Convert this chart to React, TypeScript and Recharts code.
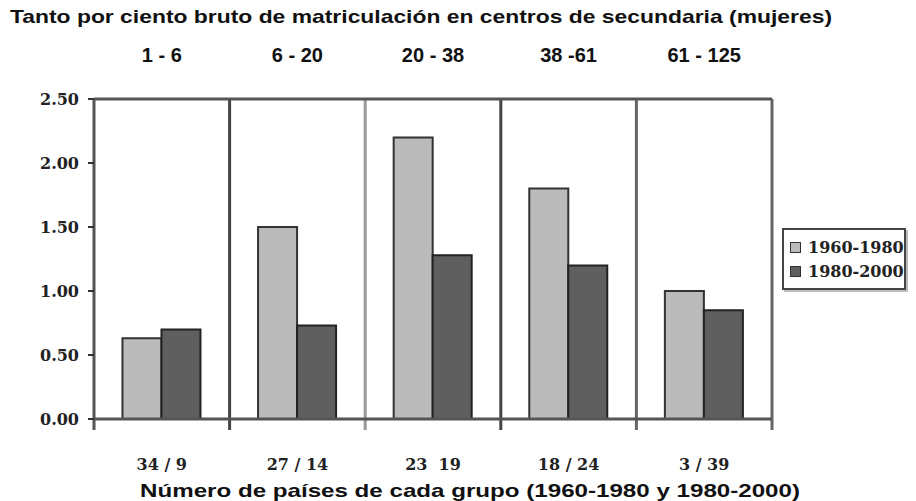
import { BarChart, Bar, XAxis, YAxis, ReferenceLine, Legend } from 'recharts';

const ranges = ['1 - 6', '6 - 20', '20 - 38', '38 -61', '61 - 125'];
const paises = ['34 / 9', '27 / 14', '23\u00a0 19', '18 / 24', '3 / 39'];
const v1960 = [0.63, 1.5, 2.2, 1.8, 1.0];
const v1980 = [0.7, 0.73, 1.28, 1.2, 0.85];
const yTicks = [0, 0.5, 1, 1.5, 2, 2.5];

const data = paises.map((p, i) => ({ paises: p, range: ranges[i], a: v1960[i], b: v1980[i] }));

const serif = { fontFamily: 'DejaVu Serif', fontWeight: 700, fontSize: 16, fill: '#222' };
const sans = "'Liberation Sans', Arial, sans-serif";

// dividers between groups (band edges), last one closes the frame
const dividers = [
  { x: paises[1], pos: 'start', color: '#444' },
  { x: paises[2], pos: 'start', color: '#999' },
  { x: paises[3], pos: 'start', color: '#444' },
  { x: paises[4], pos: 'start', color: '#666' },
  { x: paises[4], pos: 'end', color: '#666' },
];

function LegendBox({ payload }: any) {
  return (
    <div style={{ boxSizing: 'border-box', width: 124, border: '2px solid #444', boxShadow: '2px 2px 0 #bbb', background: '#fff', padding: '5px 0 5px 6px' }}>
      {(payload || []).map((e: any) => (
        <div key={e.value} style={{ display: 'flex', alignItems: 'center', height: 24, fontFamily: 'DejaVu Serif', fontWeight: 700, fontSize: 16, color: '#222' }}>
          <span style={{ display: 'inline-block', width: 9, height: 9, border: '1px solid #333', background: e.color, marginRight: 7 }} />
          {e.value}
        </div>
      ))}
    </div>
  );
}

export default function App() {
  return (
    <div style={{ position: 'absolute', left: 0, top: 0, background: '#fff' }}>
      <BarChart width={916} height={501} data={data} margin={{ top: 0, right: 20, bottom: 0, left: 0 }} barCategoryGap="21%" barGap={0}>
        <text x={421} y={23} textAnchor="middle" textLength={822} lengthAdjust="spacingAndGlyphs" style={{ fontFamily: sans, fontSize: 19, fontWeight: 700, fill: '#111' }}>
          Tanto por ciento bruto de matriculación en centros de secundaria (mujeres)
        </text>
        <text x={470} y={497} textAnchor="middle" textLength={660} lengthAdjust="spacingAndGlyphs" style={{ fontFamily: sans, fontSize: 19, fontWeight: 700, fill: '#111' }}>
          Número de países de cada grupo (1960-1980 y 1980-2000)
        </text>
        <XAxis dataKey="paises" height={71} axisLine={false} tickLine={false} tickMargin={23} interval={0} tick={serif} />
        <XAxis xAxisId="top" orientation="top" dataKey="range" height={99} axisLine={false} tickLine={false} tickSize={0} tickMargin={37} interval={0}
          tick={{ fontFamily: sans, fontWeight: 700, fontSize: 20, fill: '#111' }} />
        <YAxis type="number" domain={[-0.0859, 2.5]} ticks={yTicks} allowDataOverflow width={94} tickFormatter={(v: number) => v.toFixed(2)}
          axisLine={{ stroke: '#555', strokeWidth: 3 }} tickLine={{ stroke: '#333', strokeWidth: 2 }} tickSize={6} tickMargin={9} tick={serif} />
        <Bar dataKey="a" name="1960-1980" fill="#bbbbbb" stroke="#333" strokeWidth={2} isAnimationActive={false} />
        <Bar dataKey="b" name="1980-2000" fill="#5f5f5f" stroke="#222" strokeWidth={2} isAnimationActive={false} />
        {dividers.map((d, i) => (
          <ReferenceLine key={i} x={d.x} position={d.pos as any} stroke={d.color} strokeWidth={3} />
        ))}
        <ReferenceLine y={2.5} stroke="#555" strokeWidth={3} />
        <ReferenceLine y={0} stroke="#555" strokeWidth={3} />
        <Legend layout="vertical" align="right" verticalAlign="top" wrapperStyle={{ left: 782, top: 228, width: 124 }} content={LegendBox} />
      </BarChart>
    </div>
  );
}
